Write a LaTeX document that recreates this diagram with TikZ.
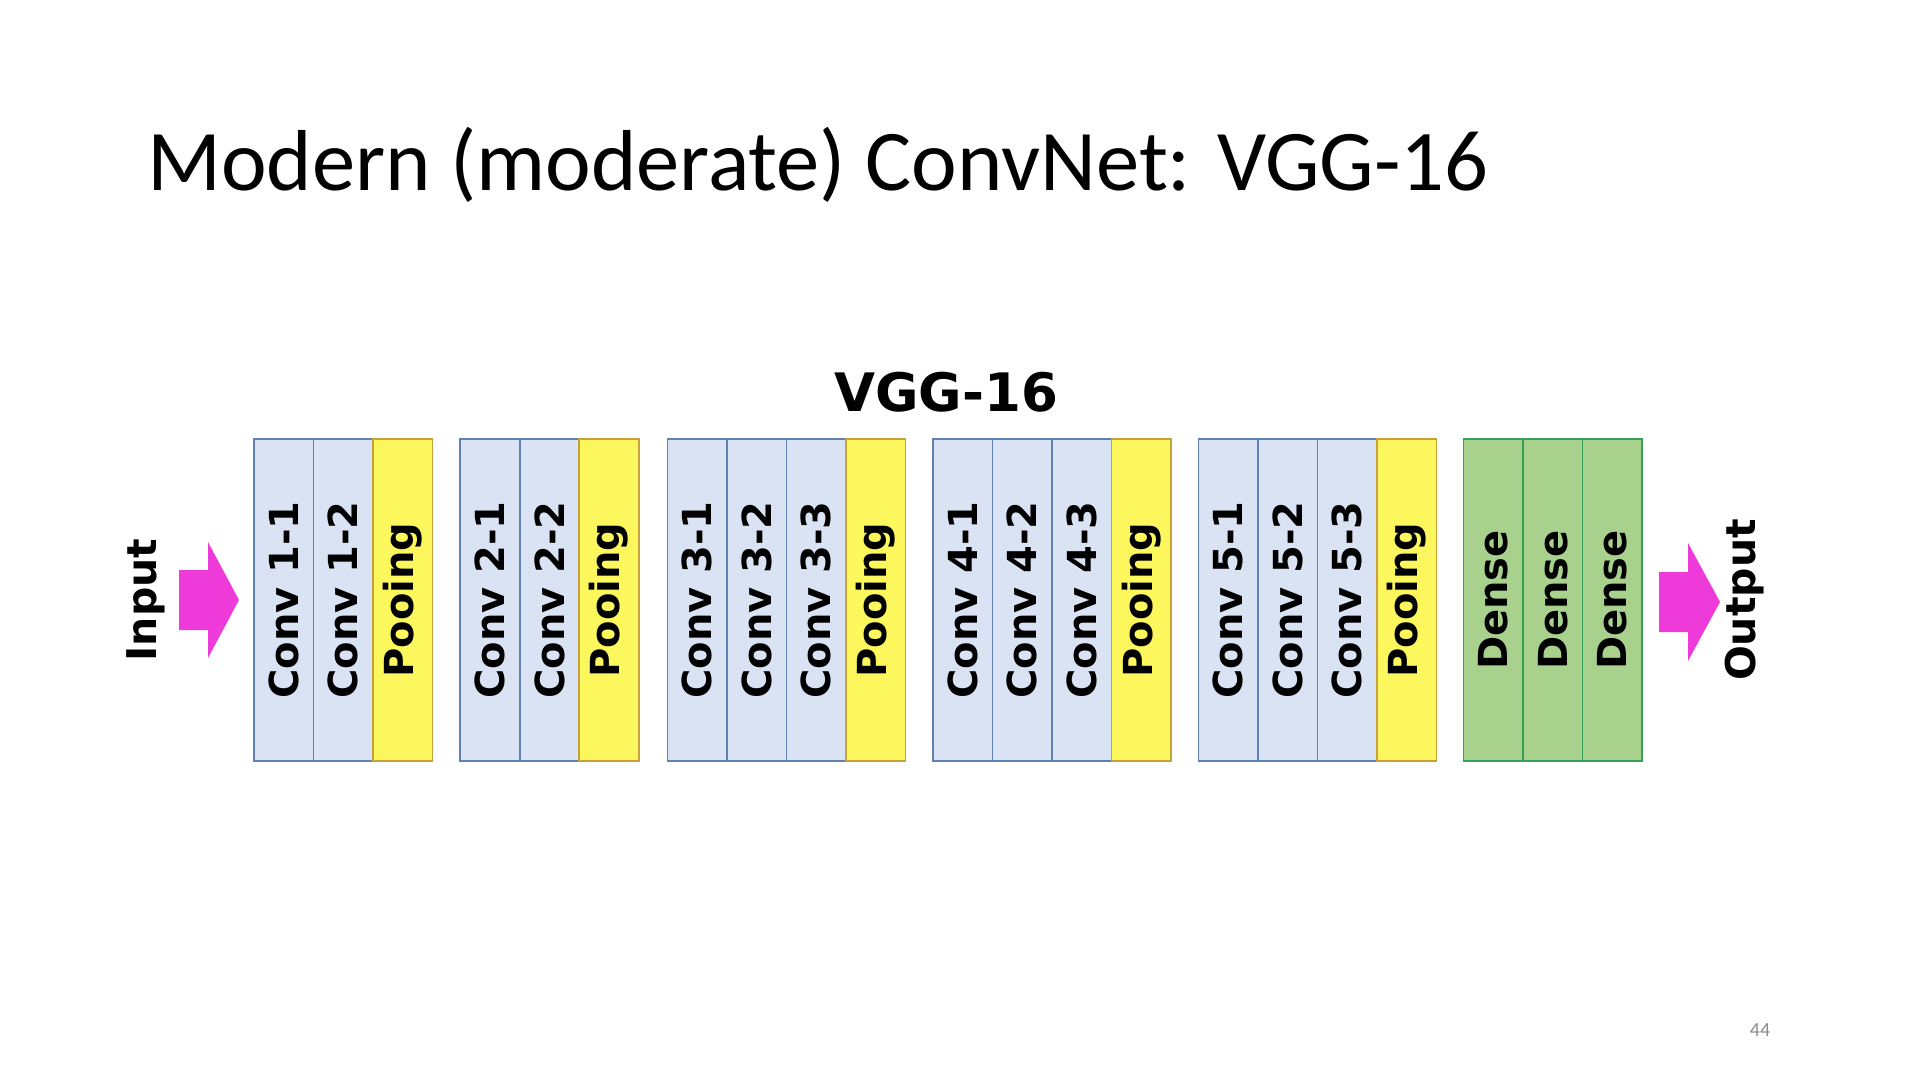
\documentclass[tikz,border=0pt]{standalone}
\usepackage{fontspec}
\setmainfont{Carlito}
\newfontfamily\labfont{DejaVu Sans}
\definecolor{convfill}{HTML}{DAE3F3}
\definecolor{convdraw}{HTML}{5F82B0}
\definecolor{poolfill}{HTML}{FDF75E}
\definecolor{pooldraw}{HTML}{C9A13A}
\definecolor{densefill}{HTML}{A9D18E}
\definecolor{densedraw}{HTML}{35A057}
\definecolor{arrowpink}{HTML}{EE3AD8}
\definecolor{pagegray}{HTML}{8C8C8C}
\begin{document}
\begin{tikzpicture}[x=1pt,y=-1pt,
  cell/.style={rectangle, minimum width=59.5pt, minimum height=322pt, inner sep=0pt, outer sep=0pt, line width=1.6pt, font=\labfont\bfseries\fontsize{40}{40}\selectfont},
  conv/.style={cell, fill=convfill, draw=convdraw},
  pool/.style={cell, fill=poolfill, draw=pooldraw},
  dense/.style={cell, fill=densefill, draw=densedraw},
  sidelabel/.style={inner sep=0pt, font=\labfont\bfseries\fontsize{41}{41}\selectfont},
  blockarrow/.style={fill=arrowpink, draw=none}
]
\useasboundingbox (0,0) rectangle (1920,1080);
\fill[white] (0,0) rectangle (1920,1080);

% title
\node[anchor=base west, inner sep=0pt, font=\fontsize{86.5}{86.5}\selectfont] (title) at (147,190) {Modern (moderate) ConvNet: VGG-16};

% diagram heading
\node[inner sep=0pt, font=\labfont\bfseries\fontsize{53}{53}\selectfont] (vgg) at (946,392) {VGG-16};

% group 1
\node[conv] (c11) at (283.75,600) {\rotatebox{90}{Conv 1-1}};
\node[conv] (c12) at (343.25,600) {\rotatebox{90}{Conv 1-2}};
\node[pool] (p1)  at (402.75,600) {\rotatebox{90}{Pooing}};
% group 2
\node[conv] (c21) at (489.95,600) {\rotatebox{90}{Conv 2-1}};
\node[conv] (c22) at (549.45,600) {\rotatebox{90}{Conv 2-2}};
\node[pool] (p2)  at (608.95,600) {\rotatebox{90}{Pooing}};
% group 3
\node[conv] (c31) at (697.15,600) {\rotatebox{90}{Conv 3-1}};
\node[conv] (c32) at (756.65,600) {\rotatebox{90}{Conv 3-2}};
\node[conv] (c33) at (816.15,600) {\rotatebox{90}{Conv 3-3}};
\node[pool] (p3)  at (875.65,600) {\rotatebox{90}{Pooing}};
% group 4
\node[conv] (c41) at (962.85,600) {\rotatebox{90}{Conv 4-1}};
\node[conv] (c42) at (1022.35,600) {\rotatebox{90}{Conv 4-2}};
\node[conv] (c43) at (1081.85,600) {\rotatebox{90}{Conv 4-3}};
\node[pool] (p4)  at (1141.35,600) {\rotatebox{90}{Pooing}};
% group 5
\node[conv] (c51) at (1228.05,600) {\rotatebox{90}{Conv 5-1}};
\node[conv] (c52) at (1287.55,600) {\rotatebox{90}{Conv 5-2}};
\node[conv] (c53) at (1347.05,600) {\rotatebox{90}{Conv 5-3}};
\node[pool] (p5)  at (1406.55,600) {\rotatebox{90}{Pooing}};
% dense
\node[dense] (d1) at (1493.25,600) {\rotatebox{90}{Dense}};
\node[dense] (d2) at (1552.75,600) {\rotatebox{90}{Dense}};
\node[dense] (d3) at (1612.25,600) {\rotatebox{90}{Dense}};

% input / output labels
\node[sidelabel] (inlab) at (146,600) {\rotatebox{90}{Input}};
\node[sidelabel] (outlab) at (1745,600) {\rotatebox{90}{Output}};

% block arrows
\coordinate (ina) at (179,600);
\coordinate (outa) at (1659,602);
\fill[blockarrow] (ina) ++(0,-30) -- ++(29,0) -- ++(0,-28) -- ++(31,58) -- ++(-31,58) -- ++(0,-28) -- ++(-29,0) -- cycle;
\fill[blockarrow] (outa) ++(0,-30) -- ++(29,0) -- ++(0,-29) -- ++(32,59) -- ++(-32,59) -- ++(0,-29) -- ++(-29,0) -- cycle;

% page number
\node[inner sep=0pt, text=pagegray, font=\fontsize{20}{20}\selectfont] (pnum) at (1760,1030) {44};
\end{tikzpicture}
\end{document}
